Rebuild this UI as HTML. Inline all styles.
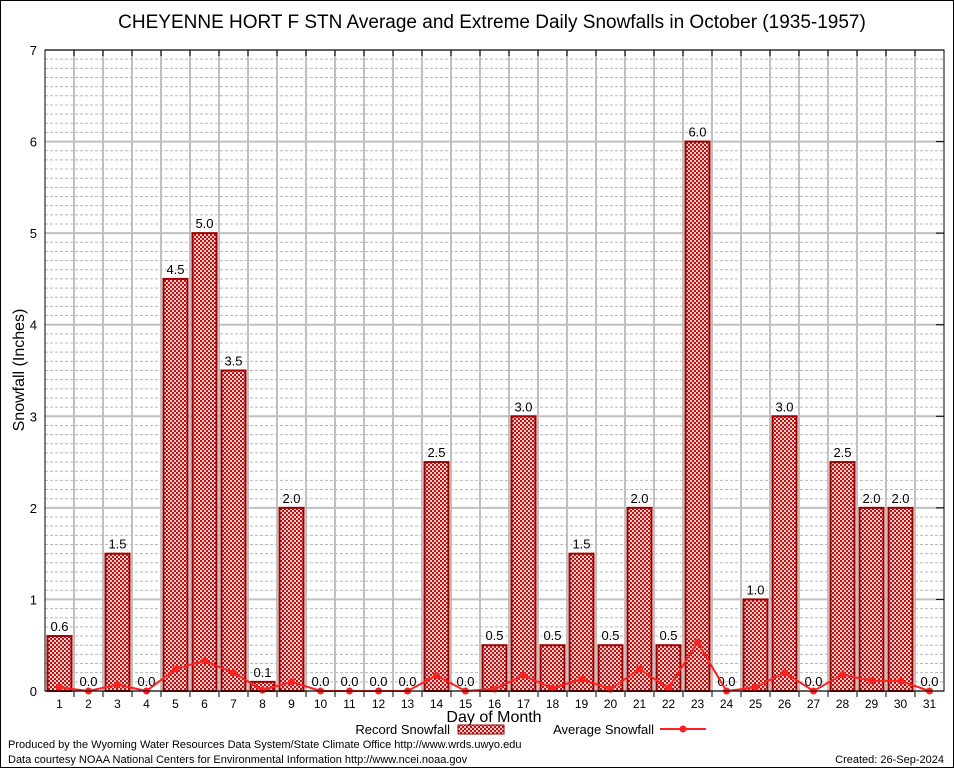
<!DOCTYPE html>
<html><head><meta charset="utf-8"><style>
body{margin:0;background:#fff}
svg{display:block}
text{font-family:"Liberation Sans",sans-serif}
</style></head><body>
<svg id="chart" width="954" height="768" xmlns="http://www.w3.org/2000/svg">
<defs>
<pattern id="chk" width="4" height="4" patternUnits="userSpaceOnUse">
<rect width="4" height="4" fill="#f3d0d0"/>
<rect x="0" y="0" width="2" height="2" fill="#c01010"/>
<rect x="2" y="2" width="2" height="2" fill="#c01010"/>
</pattern>
</defs>
<rect x="0.5" y="0.5" width="953" height="767" fill="#fff" stroke="#000"/>
<text x="492" y="28" font-size="19" text-anchor="middle">CHEYENNE HORT F STN Average and Extreme Daily Snowfalls in October (1935-1957)</text>
<g id="grid"></g>
<g id="bars"></g>
<g id="avg"></g>
<g id="axes"></g>
<text transform="translate(24,370) rotate(-90)" font-size="16" text-anchor="middle">Snowfall (Inches)</text>
<text x="494" y="722" font-size="16" text-anchor="middle">Day of Month</text>
<g>
<text x="450" y="734" font-size="13" text-anchor="end">Record Snowfall</text>
<rect x="458" y="725" width="46" height="9" fill="url(#chk)" stroke="#a00000"/>
<text x="654" y="734" font-size="13" text-anchor="end">Average Snowfall</text>
<line x1="660" y1="729" x2="706" y2="729" stroke="#ff2020" stroke-width="2"/>
<circle cx="683" cy="729" r="3.5" fill="#ff2020"/>
</g>
<text x="8" y="748" font-size="11">Produced by the Wyoming Water Resources Data System/State Climate Office http://www.wrds.uwyo.edu</text>
<text x="8" y="763" font-size="11">Data courtesy NOAA National Centers for Environmental Information http://www.ncei.noaa.gov</text>
<text x="944" y="763" font-size="11" text-anchor="end">Created: 26-Sep-2024</text>
</svg>
<script>
const days = [1,2,3,4,5,6,7,8,9,10,11,12,13,14,15,16,17,18,19,20,21,22,23,24,25,26,27,28,29,30,31];
const recordSnow = [0.6,0,1.5,0,4.5,5.0,3.5,0.1,2.0,0,0,0,0,2.5,0,0.5,3.0,0.5,1.5,0.5,2.0,0.5,6.0,0,1.0,3.0,0,2.5,2.0,2.0,0];
const avgSnow = [0.04,0,0.07,0,0.24,0.33,0.2,0.01,0.1,0,0,0,0,0.17,0,0.02,0.17,0.03,0.13,0.02,0.24,0.03,0.53,0,0.04,0.2,0,0.18,0.11,0.11,0];
const yTicks = [0,1,2,3,4,5,6,7];
const L=45,R=944,T=50,B=691,YMAX=7;
const slot=(R-L)/days.length;
const xS=d=>L+slot*(d-0.5);
const yS=v=>B-(B-T)*v/YMAX;
const NS="http://www.w3.org/2000/svg";
function mk(p,tag,a){const e=document.createElementNS(NS,tag);for(const k in a)e.setAttribute(k,a[k]);p.appendChild(e);return e;}
const grid=document.getElementById('grid'),bars=document.getElementById('bars'),avg=document.getElementById('avg'),axes=document.getElementById('axes');
for(let m=0;m<YMAX*10;m++){if(m%10===0)continue;const y=yS(m/10);
 const l=mk(grid,'line',{x1:L,x2:R,y1:y,y2:y,stroke:'#b8b8b8','stroke-width':1,'stroke-dasharray':'3,2'});
 
 }
yTicks.forEach(v=>{const y=yS(v);
 const l=mk(grid,'line',{x1:L,x2:R,y1:y,y2:y,stroke:'#c0c0c0','stroke-width':2});
 
 
 const t=mk(axes,'text',{x:L-8,y:y+5,'font-size':13,'text-anchor':'end','font-family':'Liberation Serif, serif'});t.textContent=v;
 
 
 const tk=mk(axes,'line',{x1:R-8,x2:R,y1:y,y2:y,stroke:'#000'});
 
 });
for(let i=1;i<days.length;i++){const x=L+slot*i;
 const l=mk(grid,'line',{x1:x,x2:x,y1:T,y2:B,stroke:'#c0c0c0','stroke-width':2});
 
 
 const tk=mk(axes,'line',{x1:x,x2:x,y1:T,y2:T+6,stroke:'#000'});
 
 
 const tb=mk(axes,'line',{x1:x,x2:x,y1:B,y2:B+6,stroke:'#000'});
 
 }
days.forEach((d,i)=>{const x=xS(d),v=recordSnow[i];
 if(v>0){const r=mk(bars,'rect',{x:x-12,y:yS(v),width:24,height:B-yS(v),fill:'url(#chk)',stroke:'#a00000','stroke-width':2});
 
 }
 const t=mk(bars,'text',{x:x,y:yS(v)-5,'font-size':13,'text-anchor':'middle'});t.textContent=v.toFixed(1);
 
 
 const xl=mk(axes,'text',{x:x,y:B+17,'font-size':12,'text-anchor':'middle','font-family':'Liberation Serif, serif'});xl.textContent=d;
 
 });
const pl=mk(avg,'polyline',{points:days.map((d,i)=>xS(d)+','+yS(avgSnow[i])).join(' '),fill:'none',stroke:'#ff2020','stroke-width':2});


days.forEach((d,i)=>{const c=mk(avg,'circle',{cx:xS(d),cy:yS(avgSnow[i]),r:3.5,fill:'#ff2020'});
 
 });
const f=mk(axes,'rect',{x:L,y:T,width:R-L,height:B-T,fill:'none',stroke:'#000','stroke-width':1});


</script>
</body></html>
